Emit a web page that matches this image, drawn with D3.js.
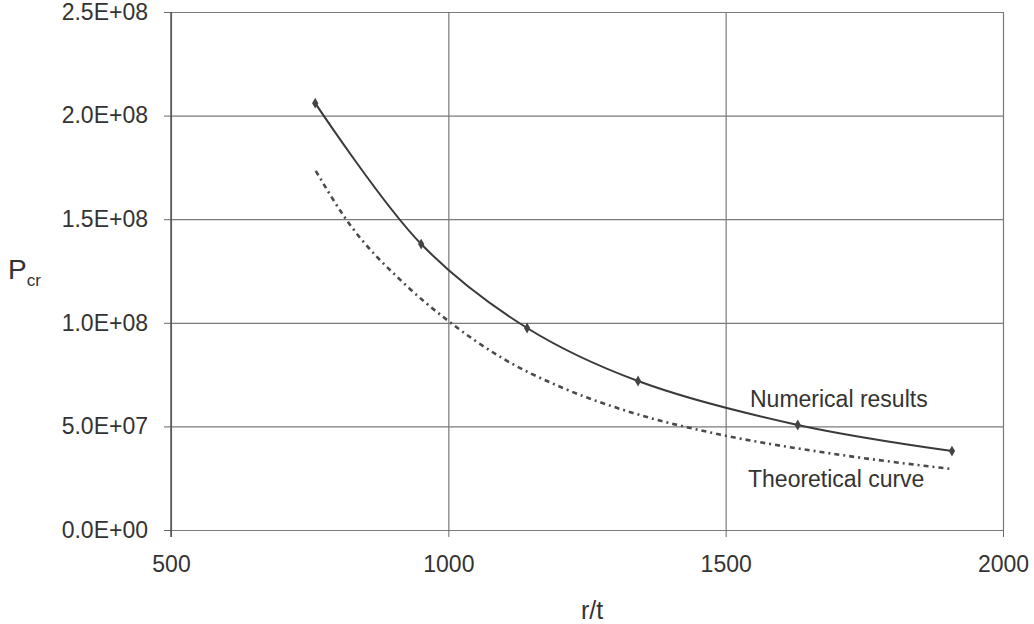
<!DOCTYPE html>
<html>
<head>
<meta charset="utf-8">
<script src="https://cdn.jsdelivr.net/npm/d3@7"></script>
<style>
  html, body { margin: 0; padding: 0; background: #fff; }
  svg { display: block; }
  text { font-family: "Liberation Sans", Arial, sans-serif; fill: #333; }
</style>
</head>
<body>
<svg id="chart" width="1034" height="624"></svg>
<script>
// Critical load P_cr versus slenderness r/t
const numRatio = [760, 951, 1142, 1342, 1630, 1908];
const numLoad  = [2.06e8, 1.38e8, 0.975e8, 0.719e8, 0.507e8, 0.381e8];

const theoRatio = [761, 814, 927, 998, 1097, 1207, 1333, 1495, 1683, 1908];
const theoLoad  = [1.733e8, 1.506e8, 1.173e8, 1.013e8, 0.830e8, 0.685e8, 0.565e8, 0.458e8, 0.372e8, 0.294e8];

const xTicks = [500, 1000, 1500, 2000];
const yTicks = [0, 0.5e8, 1.0e8, 1.5e8, 2.0e8, 2.5e8];
const yTickLabels = ["0.0E+00", "5.0E+07", "1.0E+08", "1.5E+08", "2.0E+08", "2.5E+08"];

const svg = d3.select("#chart");
const plotLeft = 171, plotRight = 1003, plotTop = 12, plotBottom = 530;

const x = d3.scaleLinear().domain([500, 2000]).range([plotLeft, plotRight]);
const y = d3.scaleLinear().domain([0, 2.5e8]).range([plotBottom, plotTop]);

// Horizontal gridlines with left ticks
const gY = svg.append("g")
  .attr("transform", `translate(${plotLeft},0)`)
  .call(d3.axisLeft(y).tickValues(yTicks).tickSize(7)
    .tickFormat((d, i) => yTickLabels[i]).tickPadding(16));
gY.select(".domain").remove();
gY.selectAll(".tick line").attr("stroke", "#6a6a6a");
gY.selectAll(".tick").append("line")
  .attr("x1", 0).attr("x2", plotRight - plotLeft)
  .attr("stroke", "#7a7a7a").attr("stroke-width", 1.2);
gY.selectAll(".tick text")
  .style("font-size", "23px").attr("fill", "#333");

// Vertical gridlines with bottom ticks
const gX = svg.append("g")
  .attr("transform", `translate(0,${plotBottom})`)
  .call(d3.axisBottom(x).tickValues(xTicks).tickSize(7)
    .tickFormat(d3.format("d")).tickPadding(19));
gX.select(".domain").remove();
gX.selectAll(".tick line").attr("stroke", "#6a6a6a");
gX.selectAll(".tick").append("line")
  .attr("y1", 0).attr("y2", plotTop - plotBottom)
  .attr("stroke", "#7a7a7a").attr("stroke-width", 1.2);
gX.selectAll(".tick text")
  .style("font-size", "23px").attr("fill", "#333");

// Left axis line
svg.append("line")
  .attr("x1", plotLeft).attr("x2", plotLeft).attr("y1", plotTop).attr("y2", plotBottom + 7)
  .attr("stroke", "#555").attr("stroke-width", 1.5);

// Theoretical curve (dash-dot)
const theo = theoRatio.map((r, i) => [r, theoLoad[i]]);
svg.append("path")
  .datum(theo)
  .attr("fill", "none")
  .attr("stroke", "#4a4a4a")
  .attr("stroke-width", 2.6)
  .attr("stroke-dasharray", "5,4,2,4")
  .attr("d", d3.line().x(d => x(d[0])).y(d => y(d[1])).curve(d3.curveMonotoneX));

// Numerical results (smoothed solid line with markers)
const num = numRatio.map((r, i) => [r, numLoad[i]]);
svg.append("path")
  .datum(num)
  .attr("fill", "none")
  .attr("stroke", "#3a3a3a")
  .attr("stroke-width", 2)
  .attr("d", d3.line().x(d => x(d[0])).y(d => y(d[1])).curve(d3.curveCatmullRom.alpha(0.5)));

svg.append("g").selectAll("path")
  .data(num)
  .join("path")
  .attr("transform", d => `translate(${x(d[0])},${y(d[1])})`)
  .attr("d", d3.symbol().type(d3.symbolDiamond).size(34))
  .attr("fill", "#444");

// Series labels
svg.append("text").attr("x", 750).attr("y", 407)
  .style("font-size", "23px").text("Numerical results");
svg.append("text").attr("x", 748).attr("y", 487)
  .style("font-size", "23px").text("Theoretical curve");

// Axis titles
svg.append("text").attr("x", 592).attr("y", 619)
  .attr("text-anchor", "middle").style("font-size", "25px").text("r/t");

const pcr = svg.append("text").attr("x", 8).attr("y", 279).style("font-size", "28px");
pcr.append("tspan").text("P");
pcr.append("tspan").attr("dy", 7).style("font-size", "17px").text("cr");
</script>
</body>
</html>
